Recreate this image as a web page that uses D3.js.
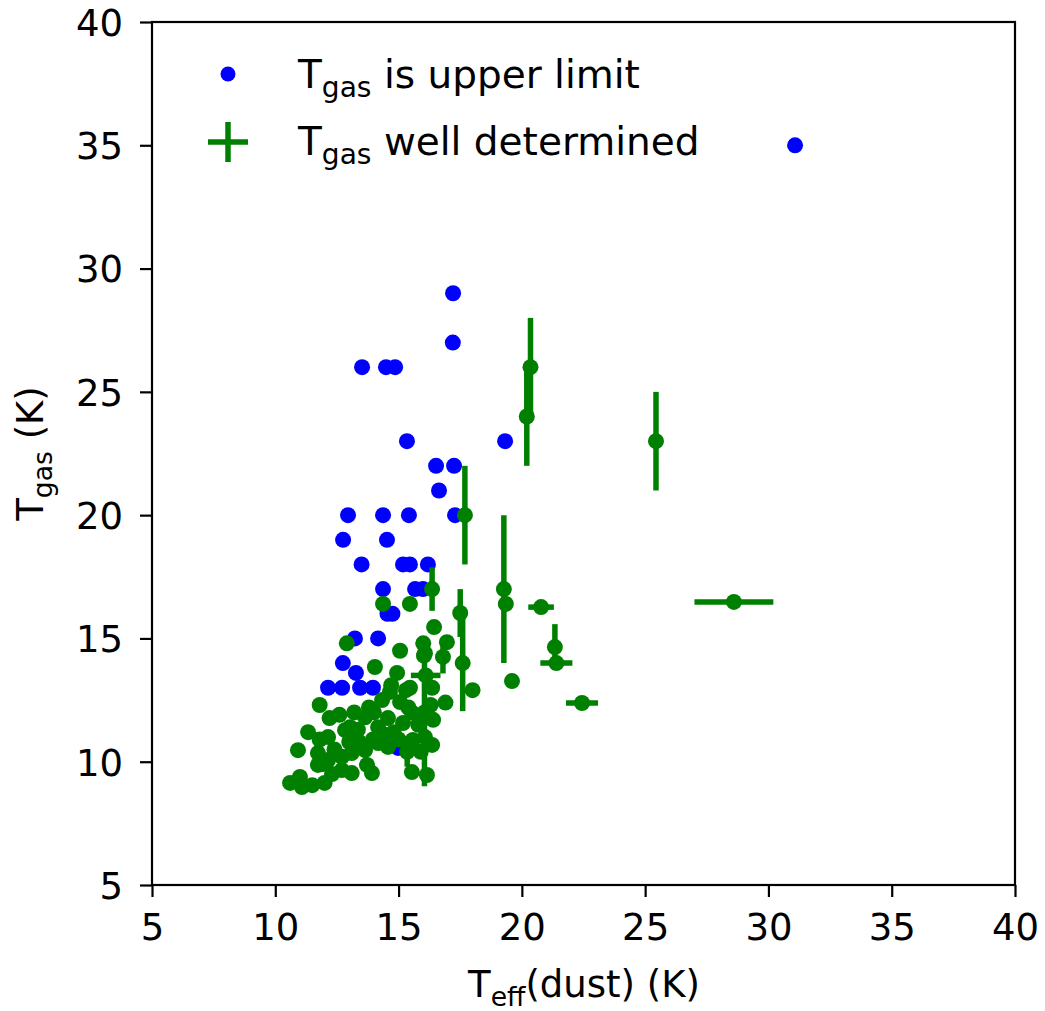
<!DOCTYPE html>
<html>
<head>
<meta charset="utf-8">
<script src="https://cdn.jsdelivr.net/npm/d3@7"></script>
<style>
  html, body { margin: 0; padding: 0; background: #fff; }
  svg { display: block; font-family: "DejaVu Sans", sans-serif; }
</style>
</head>
<body>
<svg id="chart" width="1045" height="1011"></svg>
<script>
// Axis ticks
const xTicks = [5, 10, 15, 20, 25, 30, 35, 40];
const yTicks = [5, 10, 15, 20, 25, 30, 35, 40];

// Clouds where the gas temperature is only an upper limit: [Teff(dust), Tgas]
const upperLimitX = [31.08, 17.21, 17.2, 13.52, 14.49, 14.86, 15.34, 19.32, 16.52, 17.25,
  16.64, 12.95, 14.37, 15.42, 17.29, 12.75, 14.53, 13.5, 15.18, 15.46,
  16.19, 14.37, 15.67, 15.99, 14.55, 14.75, 13.23, 14.17, 12.74, 13.27,
  12.14, 12.71, 13.44, 13.96, 14.98];
const upperLimitY = [35, 29, 27, 26, 26, 26, 23, 23, 22, 22,
  21, 20, 20, 20, 20, 19, 19, 18, 18, 18,
  18, 17, 17, 17, 16, 16, 15, 15, 14, 13.6,
  13, 13, 13, 13, 10.56];

// Clouds with a well determined gas temperature
const detX = [14.37, 15.46, 12.9, 15.06, 16.44, 16.0, 16.03, 16.96, 14.04, 14.94,
  18.0, 19.6, 11.8, 15.46, 16.36, 16.9, 12.2, 12.6, 11.33, 10.92,
  11.8, 12.14, 12.83, 13.03, 13.35, 13.64, 11.73, 11.73, 12.14, 12.7,
  12.7, 13.1, 13.1, 13.64, 13.72, 13.92, 13.96, 10.6, 11.0, 11.08,
  11.5, 12.0, 14.65, 14.33, 15.06, 15.54, 16.4, 15.18, 14.57, 14.17,
  16.07, 16.36, 15.58, 14.57, 14.17, 15.54, 16.15, 16.07, 13.4, 14.8,
  15.8, 15.0, 12.4, 13.8, 14.0, 15.3, 14.7, 16.3, 13.0, 12.3,
  11.9, 15.9, 15.4, 14.4, 13.2,
  // with error bars
  20.35, 20.2, 25.44, 17.69, 19.27, 19.35, 20.78, 21.34, 21.4, 22.44,
  28.6, 16.36, 17.5, 17.6, 16.05, 16.8, 15.35, 16.1];
const detY = [16.4, 16.4, 14.8, 14.5, 15.46, 14.8, 14.3, 14.85, 13.84, 13.6,
  12.9, 13.27, 12.3, 13.0, 13.0, 12.4, 11.77, 11.9, 11.2, 10.47,
  10.9, 11.0, 11.28, 11.4, 11.3, 11.8, 10.35, 9.87, 10.07, 10.2,
  9.66, 10.35, 9.54, 10.47, 9.87, 9.54, 10.9, 9.14, 9.38, 8.97,
  9.05, 9.14, 12.83, 12.5, 12.42, 12.0, 11.7, 11.57, 11.77, 11.4,
  11.0, 10.68, 10.88, 10.6, 10.76, 9.58, 9.46, 14.4, 10.8, 11.2,
  11.5, 10.9, 10.5, 12.2, 12.0, 12.9, 13.1, 12.3, 10.8, 9.5,
  9.9, 10.4, 12.2, 11.1, 12.0,
  26, 24, 23, 20, 17, 16.4, 16.27, 14.65, 14.0, 12.38,
  16.48, 17, 16.03, 14.0, 12.0, 14.25, 10.4, 13.5];
const detXErr = [0, 0, 0, 0, 0, 0, 0, 0, 0, 0, 0, 0, 0, 0, 0, 0, 0, 0, 0, 0,
  0, 0, 0, 0, 0, 0, 0, 0, 0, 0, 0, 0, 0, 0, 0, 0, 0, 0, 0, 0,
  0, 0, 0, 0, 0, 0, 0, 0, 0, 0, 0, 0, 0, 0, 0, 0, 0, 0, 0, 0,
  0, 0, 0, 0, 0, 0, 0, 0, 0, 0, 0, 0, 0, 0, 0,
  0, 0, 0, 0, 0, 0, 0.52, 0, 0.65, 0.65,
  1.6, 0, 0, 0, 0, 0, 0, 0.6];
const detYErr = [0, 0, 0, 0, 0, 0, 0, 0, 0, 0, 0, 0, 0, 0, 0, 0, 0, 0, 0, 0,
  0, 0, 0, 0, 0, 0, 0, 0, 0, 0, 0, 0, 0, 0, 0, 0, 0, 0, 0, 0,
  0, 0, 0, 0, 0, 0, 0, 0, 0, 0, 0, 0, 0, 0, 0, 0, 0, 0, 0, 0,
  0, 0, 0, 0, 0, 0, 0, 0, 0, 0, 0, 0, 0, 0, 0,
  2, 2, 2, 2, 3, 0, 0, 0.93, 0, 0,
  0, 0.88, 0.97, 1.95, 3, 0.67, 0.6, 0];

const BLUE = "#0000ff";
const GREEN = "#008000";

const svg = d3.select("#chart");
const x = d3.scaleLinear().domain([5, 40]).range([152, 1015]);
const y = d3.scaleLinear().domain([5, 40]).range([885, 22]);

const fontPx = 37;
const legendPx = 39;

// Axes
const gx = svg.append("g").attr("transform", `translate(0,${y(5)})`)
  .call(d3.axisBottom(x).tickValues(xTicks).tickSize(12).tickPadding(17).tickFormat(d3.format("d")));
const gy = svg.append("g").attr("transform", `translate(${x(5)},0)`)
  .call(d3.axisLeft(y).tickValues(yTicks).tickSize(12).tickPadding(17).tickFormat(d3.format("d")));
[gx, gy].forEach(g => {
  g.select(".domain").remove();
  g.selectAll(".tick line").attr("stroke", "#000").attr("stroke-width", 2.2);
  g.selectAll(".tick text").attr("fill", "#000")
    .style("font-size", fontPx + "px").style("font-family", "DejaVu Sans");
});
gy.selectAll(".tick text").attr("dy", "0.36em");

// Plot frame
svg.append("rect")
  .attr("x", x(5)).attr("y", y(40))
  .attr("width", x(40) - x(5)).attr("height", y(5) - y(40))
  .attr("fill", "none").attr("stroke", "#000").attr("stroke-width", 2.2);

const plot = svg.append("g");

// Upper-limit points
const upper = upperLimitX.map((v, i) => ({ x: v, y: upperLimitY[i] }));
plot.append("g").selectAll("circle").data(upper).join("circle")
  .attr("cx", d => x(d.x)).attr("cy", d => y(d.y)).attr("r", 8)
  .attr("fill", BLUE);

// Well-determined points with error bars
const det = detX.map((v, i) => ({ x: v, y: detY[i], xe: detXErr[i], ye: detYErr[i] }));
const bars = plot.append("g").attr("stroke", GREEN).attr("stroke-width", 5.5);
bars.selectAll("line.v").data(det.filter(d => d.ye > 0)).join("line").attr("class", "v")
  .attr("x1", d => x(d.x)).attr("x2", d => x(d.x))
  .attr("y1", d => y(d.y - d.ye)).attr("y2", d => y(d.y + d.ye));
bars.selectAll("line.h").data(det.filter(d => d.xe > 0)).join("line").attr("class", "h")
  .attr("x1", d => x(d.x - d.xe)).attr("x2", d => x(d.x + d.xe))
  .attr("y1", d => y(d.y)).attr("y2", d => y(d.y));
plot.append("g").selectAll("circle").data(det).join("circle")
  .attr("cx", d => x(d.x)).attr("cy", d => y(d.y)).attr("r", 8)
  .attr("fill", GREEN);

// Legend
const leg = svg.append("g");
leg.append("circle").attr("cx", 228).attr("cy", 74).attr("r", 7.5).attr("fill", BLUE);
leg.append("line").attr("x1", 208).attr("x2", 248).attr("y1", 142).attr("y2", 142)
  .attr("stroke", GREEN).attr("stroke-width", 5.5);
leg.append("line").attr("x1", 228).attr("x2", 228).attr("y1", 122).attr("y2", 162)
  .attr("stroke", GREEN).attr("stroke-width", 5.5);

function subLabel(g, main, sub, rest) {
  g.append("tspan").text(main);
  g.append("tspan").text(sub).attr("font-size", "0.72em").attr("dy", "0.32em");
  g.append("tspan").text(rest).attr("dy", "-0.23em");
}
const l1 = leg.append("text").attr("x", 298).attr("y", 88)
  .style("font-size", legendPx + "px").attr("fill", "#000");
subLabel(l1, "T", "gas", " is upper limit");
const l2 = leg.append("text").attr("x", 298).attr("y", 155)
  .style("font-size", legendPx + "px").attr("fill", "#000");
subLabel(l2, "T", "gas", " well determined");

// Axis titles
const xl = svg.append("text").attr("x", 584).attr("y", 997).attr("text-anchor", "middle")
  .style("font-size", fontPx + "px").attr("fill", "#000");
subLabel(xl, "T", "eff", "(dust) (K)");
const yl = svg.append("text")
  .attr("transform", `translate(43,${(y(5) + y(40)) / 2}) rotate(-90)`)
  .attr("text-anchor", "middle")
  .style("font-size", fontPx + "px").attr("fill", "#000");
subLabel(yl, "T", "gas", " (K)");
</script>
</body>
</html>
